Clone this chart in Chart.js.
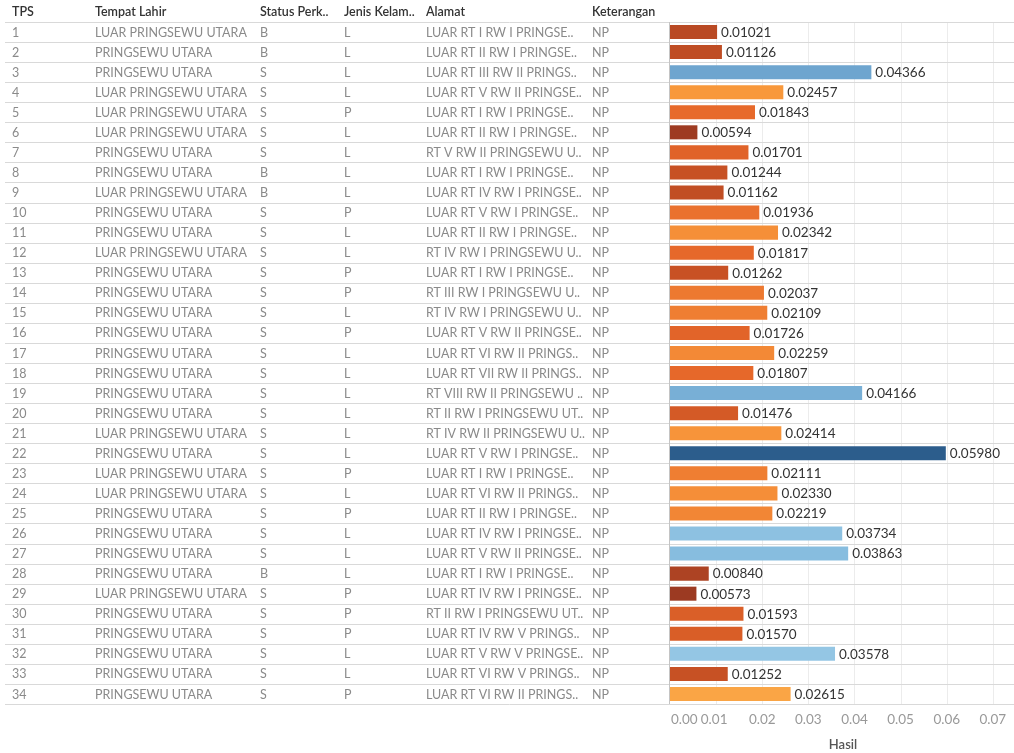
<!DOCTYPE html>
<html>
<head>
<meta charset="utf-8">
<script src="https://cdn.jsdelivr.net/npm/chart.js@4/dist/chart.umd.min.js"></script>
<style>
  html, body { margin: 0; padding: 0; background: #fff; }
  #wrap { position: relative; width: 1014px; height: 753px; }
</style>
</head>
<body>
<div id="wrap"><canvas id="c" width="1014" height="753"></canvas></div>
<script>
// Table columns
const tps = ['1','2','3','4','5','6','7','8','9','10','11','12','13','14','15','16','17','18','19','20','21','22','23','24','25','26','27','28','29','30','31','32','33','34'];
const tempatLahir = [
  'LUAR PRINGSEWU UTARA','PRINGSEWU UTARA','PRINGSEWU UTARA','LUAR PRINGSEWU UTARA','LUAR PRINGSEWU UTARA',
  'LUAR PRINGSEWU UTARA','PRINGSEWU UTARA','PRINGSEWU UTARA','LUAR PRINGSEWU UTARA','PRINGSEWU UTARA',
  'PRINGSEWU UTARA','LUAR PRINGSEWU UTARA','PRINGSEWU UTARA','PRINGSEWU UTARA','PRINGSEWU UTARA',
  'PRINGSEWU UTARA','PRINGSEWU UTARA','PRINGSEWU UTARA','PRINGSEWU UTARA','PRINGSEWU UTARA',
  'LUAR PRINGSEWU UTARA','PRINGSEWU UTARA','LUAR PRINGSEWU UTARA','LUAR PRINGSEWU UTARA','PRINGSEWU UTARA',
  'PRINGSEWU UTARA','PRINGSEWU UTARA','PRINGSEWU UTARA','LUAR PRINGSEWU UTARA','PRINGSEWU UTARA',
  'PRINGSEWU UTARA','PRINGSEWU UTARA','PRINGSEWU UTARA','PRINGSEWU UTARA'
];
const statusPerk = ['B','B','S','S','S','S','S','B','B','S','S','S','S','S','S','S','S','S','S','S','S','S','S','S','S','S','S','B','S','S','S','S','S','S'];
const jenisKelamin = ['L','L','L','L','P','L','L','L','L','P','L','L','P','P','L','P','L','L','L','L','L','L','P','L','P','L','L','L','P','P','P','L','L','P'];
const alamat = [
  'LUAR RT I RW I PRINGSE..','LUAR RT II RW I PRINGSE..','LUAR RT III RW II PRINGS..','LUAR RT V RW II PRINGSE..',
  'LUAR RT I RW I PRINGSE..','LUAR RT II RW I PRINGSE..','RT V RW II PRINGSEWU U..','LUAR RT I RW I PRINGSE..',
  'LUAR RT IV RW I PRINGSE..','LUAR RT V RW I PRINGSE..','LUAR RT II RW I PRINGSE..','RT IV RW I PRINGSEWU U..',
  'LUAR RT I RW I PRINGSE..','RT III RW I PRINGSEWU U..','RT IV RW I PRINGSEWU U..','LUAR RT V RW II PRINGSE..',
  'LUAR RT VI RW II PRINGS..','LUAR RT VII RW II PRINGS..','RT VIII RW II PRINGSEWU ..','RT II RW I PRINGSEWU UT..',
  'RT IV RW II PRINGSEWU U..','LUAR RT V RW I PRINGSE..','LUAR RT I RW I PRINGSE..','LUAR RT VI RW II PRINGS..',
  'LUAR RT II RW I PRINGSE..','LUAR RT IV RW I PRINGSE..','LUAR RT V RW II PRINGSE..','LUAR RT I RW I PRINGSE..',
  'LUAR RT IV RW I PRINGSE..','RT II RW I PRINGSEWU UT..','LUAR RT IV RW V PRINGS..','LUAR RT V RW V PRINGSE..',
  'LUAR RT VI RW V PRINGS..','LUAR RT VI RW II PRINGS..'
];
const keterangan = Array(34).fill('NP');
const hasil = [
  0.01021, 0.01126, 0.04366, 0.02457, 0.01843, 0.00594, 0.01701, 0.01244, 0.01162, 0.01936,
  0.02342, 0.01817, 0.01262, 0.02037, 0.02109, 0.01726, 0.02259, 0.01807, 0.04166, 0.01476,
  0.02414, 0.05980, 0.02111, 0.02330, 0.02219, 0.03734, 0.03863, 0.00840, 0.00573, 0.01593,
  0.01570, 0.03578, 0.01252, 0.02615
];
const headers = ['TPS', 'Tempat Lahir', 'Status Perk..', 'Jenis Kelam..', 'Alamat', 'Keterangan'];
const xTicks = [0, 0.01, 0.02, 0.03, 0.04, 0.05, 0.06, 0.07];

// Diverging orange-blue colour ramp keyed on value
const rampStops = [
  [0.0057, [156, 58, 34]],
  [0.0125, [199, 81, 36]],
  [0.0180, [230, 103, 42]],
  [0.0245, [248, 151, 59]],
  [0.0262, [250, 165, 69]],
  [0.0310, [235, 232, 228]],
  [0.0358, [148, 198, 228]],
  [0.0387, [135, 189, 223]],
  [0.0437, [110, 165, 207]],
  [0.0598, [44, 93, 140]]
];
function rampColor(v) {
  if (v <= rampStops[0][0]) return 'rgb(' + rampStops[0][1].join(',') + ')';
  for (let i = 1; i < rampStops.length; i++) {
    if (v <= rampStops[i][0]) {
      const [v0, c0] = rampStops[i - 1], [v1, c1] = rampStops[i];
      const t = (v - v0) / (v1 - v0);
      return 'rgb(' + c0.map((c, k) => Math.round(c + (c1[k] - c) * t)).join(',') + ')';
    }
  }
  return 'rgb(' + rampStops[rampStops.length - 1][1].join(',') + ')';
}

const FONT = 'Lato, "Open Sans", sans-serif';
const colX = [12, 95, 260, 344, 426, 592];
const columns = [tps, tempatLahir, statusPerk, jenisKelamin, alamat, keterangan];

// Table text, row rules, grid lines and axis labels
const tablePlugin = {
  id: 'tablePlugin',
  beforeDatasetsDraw(chart) {
    const ctx = chart.ctx, x = chart.scales.x, y = chart.scales.y, area = chart.chartArea;
    ctx.save();
    // vertical grid
    ctx.lineWidth = 1;
    ctx.strokeStyle = '#ececec';
    xTicks.forEach(t => {
      if (t === 0) return;
      const px = Math.round(x.getPixelForValue(t)) + 0.5;
      ctx.beginPath(); ctx.moveTo(px, area.top); ctx.lineTo(px, area.bottom); ctx.stroke();
    });
    // row rules
    const step = (y.getPixelForValue(1) - y.getPixelForValue(0));
    ctx.strokeStyle = '#d9d9d9';
    for (let i = 0; i <= tps.length; i++) {
      const py = Math.round(y.getPixelForValue(i) - step / 2) + 0.5;
      ctx.beginPath(); ctx.moveTo(5, py); ctx.lineTo(1014, py); ctx.stroke();
    }
    // zero axis line
    ctx.strokeStyle = '#c4c4c4';
    const zx = Math.round(x.getPixelForValue(0)) - 0.5;
    ctx.beginPath(); ctx.moveTo(zx, area.top); ctx.lineTo(zx, area.bottom); ctx.stroke();
    ctx.restore();
  },
  afterDraw(chart) {
    const ctx = chart.ctx, x = chart.scales.x, y = chart.scales.y;
    ctx.save();
    ctx.textBaseline = 'middle';
    // headers
    ctx.fillStyle = '#333';
    ctx.font = '600 12.5px ' + FONT;
    ctx.textAlign = 'left';
    headers.forEach((h, c) => ctx.fillText(h, colX[c], 12));
    // table cells
    ctx.fillStyle = '#8a8a8a';
    ctx.font = '12.5px ' + FONT;
    for (let i = 0; i < tps.length; i++) {
      const py = y.getPixelForValue(i) + 0.5;
      columns.forEach((col, c) => ctx.fillText(col[i], colX[c], py));
    }
    // value labels
    ctx.fillStyle = '#333';
    ctx.font = '13.5px ' + FONT;
    hasil.forEach((v, i) => {
      ctx.fillText(v.toFixed(5), x.getPixelForValue(v) + 4, y.getPixelForValue(i) + 0.5);
    });
    // x tick labels
    ctx.fillStyle = '#999';
    ctx.font = '13.5px ' + FONT;
    xTicks.forEach((t, k) => {
      const px = x.getPixelForValue(t);
      if (k === 0) { ctx.textAlign = 'left'; ctx.fillText(t.toFixed(2), px + 1, 720); }
      else if (k === 1) { ctx.textAlign = 'center'; ctx.fillText(t.toFixed(2), px - 2, 720); }
      else { ctx.textAlign = 'center'; ctx.fillText(t.toFixed(2), px, 720); }
    });
    // axis title
    ctx.fillStyle = '#555';
    ctx.font = '600 13px ' + FONT;
    ctx.textAlign = 'center';
    ctx.fillText('Hasil', 843, 745);
    ctx.restore();
  }
};

new Chart(document.getElementById('c'), {
  type: 'bar',
  data: {
    labels: tps,
    datasets: [{
      data: hasil,
      backgroundColor: hasil.map(rampColor),
      borderWidth: 0,
      categoryPercentage: 1,
      barPercentage: 0.7
    }]
  },
  options: {
    indexAxis: 'y',
    responsive: false,
    animation: false,
    devicePixelRatio: 1,
    layout: { padding: { left: 670, top: 22, right: 11, bottom: 49 } },
    plugins: { legend: { display: false }, tooltip: { enabled: false } },
    scales: {
      x: { display: false, min: 0, max: 0.0722 },
      y: { display: false, offset: true }
    }
  },
  plugins: [tablePlugin]
});
</script>
</body>
</html>
